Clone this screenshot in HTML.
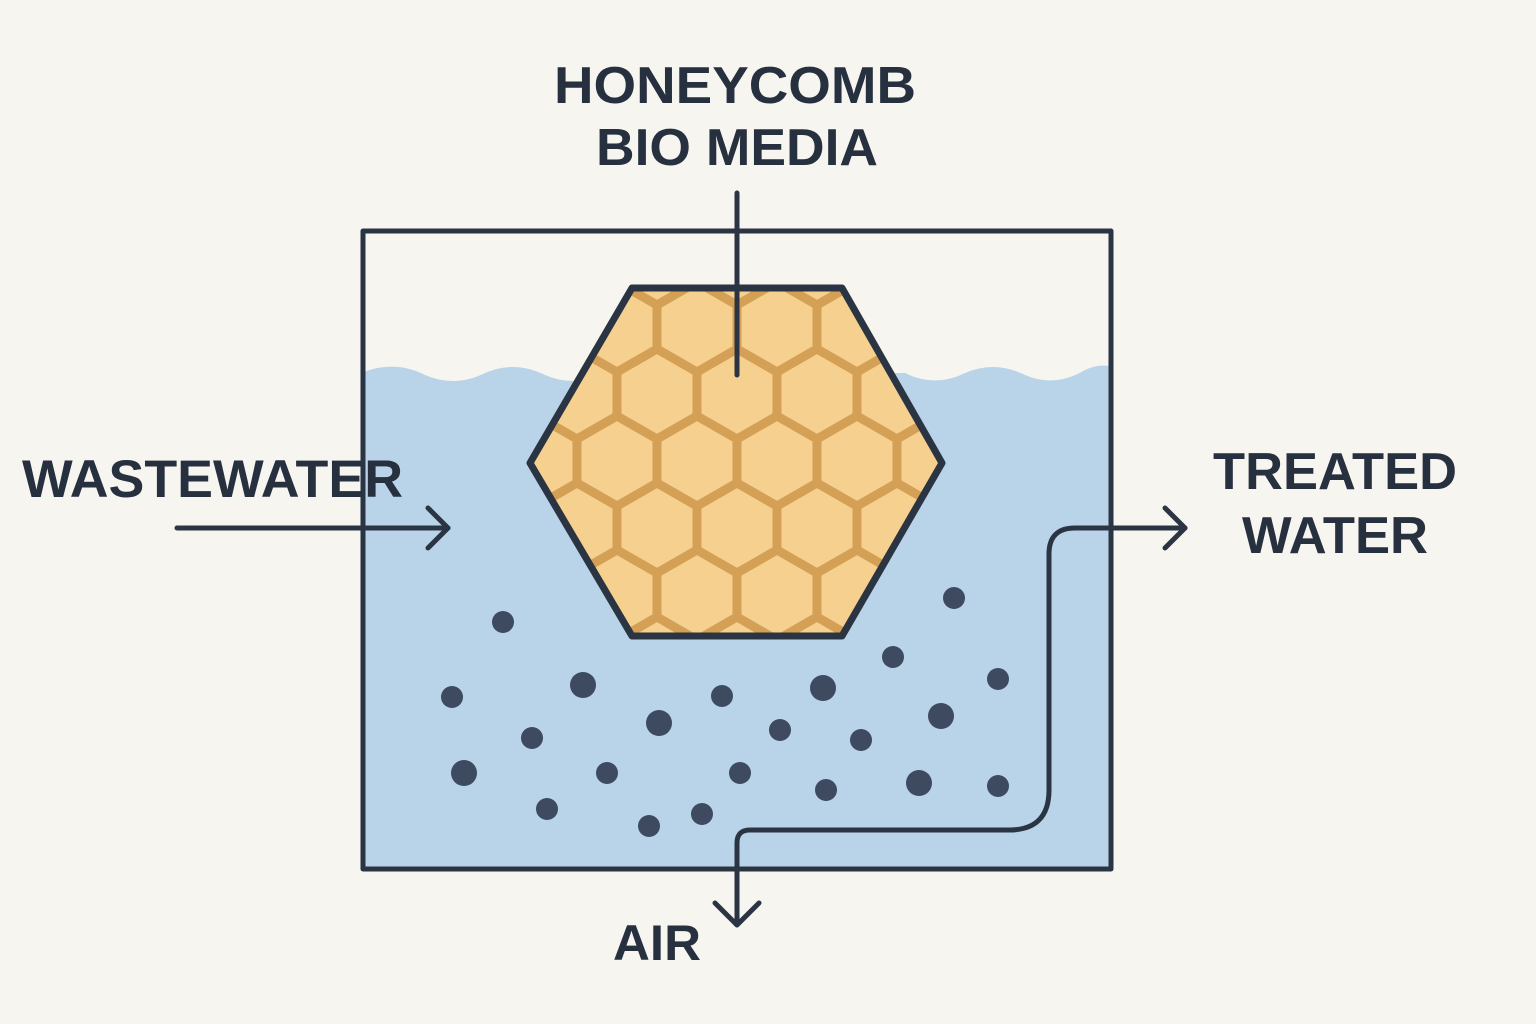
<!DOCTYPE html>
<html><head><meta charset="utf-8"><style>
html,body{margin:0;padding:0;background:#f7f5f0;}
svg{display:block}
text{font-family:"Liberation Sans",sans-serif;font-weight:bold;fill:#26303f;}
</style></head><body>
<svg width="1536" height="1024" viewBox="0 0 1536 1024" xmlns="http://www.w3.org/2000/svg">
<defs>
<polygon id="c" points="0,-46 40,-23 40,23 0,46 -40,23 -40,-23" fill="#f5d08e" stroke="#d4a055" stroke-width="9"/>
<clipPath id="hx"><polygon points="632,288 842,288 942,463 842,636 632,636 530,463"/></clipPath>
</defs>
<rect width="1536" height="1024" fill="#f7f5f0"/>
<path d="M364,372 Q395,360 425,375 Q455,388 485,373 Q515,360 545,375 Q575,388 605,373 L905,373 Q935,388 965,373 Q995,360 1025,375 Q1055,388 1085,370 Q1098,364 1109,366 L1109,868 L364,868 Z" fill="#b9d3e9"/>
<g clip-path="url(#hx)">
<rect x="520" y="280" width="430" height="370" fill="#f5d08e"/>
<g transform="translate(40,0)">
<use href="#c" x="457" y="261"/><use href="#c" x="537" y="261"/><use href="#c" x="617" y="261"/><use href="#c" x="697" y="261"/><use href="#c" x="777" y="261"/><use href="#c" x="857" y="261"/><use href="#c" x="937" y="261"/>
<use href="#c" x="497" y="328"/><use href="#c" x="577" y="328"/><use href="#c" x="657" y="328"/><use href="#c" x="737" y="328"/><use href="#c" x="817" y="328"/><use href="#c" x="897" y="328"/><use href="#c" x="977" y="328"/>
<use href="#c" x="457" y="395"/><use href="#c" x="537" y="395"/><use href="#c" x="617" y="395"/><use href="#c" x="697" y="395"/><use href="#c" x="777" y="395"/><use href="#c" x="857" y="395"/><use href="#c" x="937" y="395"/>
<use href="#c" x="497" y="462"/><use href="#c" x="577" y="462"/><use href="#c" x="657" y="462"/><use href="#c" x="737" y="462"/><use href="#c" x="817" y="462"/><use href="#c" x="897" y="462"/><use href="#c" x="977" y="462"/>
<use href="#c" x="457" y="529"/><use href="#c" x="537" y="529"/><use href="#c" x="617" y="529"/><use href="#c" x="697" y="529"/><use href="#c" x="777" y="529"/><use href="#c" x="857" y="529"/><use href="#c" x="937" y="529"/>
<use href="#c" x="497" y="596"/><use href="#c" x="577" y="596"/><use href="#c" x="657" y="596"/><use href="#c" x="737" y="596"/><use href="#c" x="817" y="596"/><use href="#c" x="897" y="596"/><use href="#c" x="977" y="596"/>
<use href="#c" x="457" y="663"/><use href="#c" x="537" y="663"/><use href="#c" x="617" y="663"/><use href="#c" x="697" y="663"/><use href="#c" x="777" y="663"/><use href="#c" x="857" y="663"/><use href="#c" x="937" y="663"/>
</g>
</g>
<polygon points="632,288 842,288 942,463 842,636 632,636 530,463" fill="none" stroke="#2b3443" stroke-width="7" stroke-linejoin="round"/>
<rect x="363" y="231" width="748" height="638" fill="none" stroke="#2b3443" stroke-width="5" stroke-linejoin="round"/>
<g fill="#3d4a60">
<circle cx="503" cy="622" r="11"/><circle cx="452" cy="697" r="11"/><circle cx="583" cy="685" r="13"/><circle cx="659" cy="723" r="13"/><circle cx="532" cy="738" r="11"/><circle cx="722" cy="696" r="11"/><circle cx="780" cy="730" r="11"/><circle cx="823" cy="688" r="13"/><circle cx="893" cy="657" r="11"/><circle cx="954" cy="598" r="11"/><circle cx="998" cy="679" r="11"/><circle cx="941" cy="716" r="13"/><circle cx="861" cy="740" r="11"/><circle cx="464" cy="773" r="13"/><circle cx="607" cy="773" r="11"/><circle cx="740" cy="773" r="11"/><circle cx="826" cy="790" r="11"/><circle cx="919" cy="783" r="13"/><circle cx="998" cy="786" r="11"/><circle cx="547" cy="809" r="11"/><circle cx="649" cy="826" r="11"/><circle cx="702" cy="814" r="11"/>
</g>
<g fill="none" stroke="#2b3443" stroke-width="5" stroke-linecap="round" stroke-linejoin="round">
<line x1="737" y1="193" x2="737" y2="375"/>
<line x1="177" y1="528" x2="448" y2="528"/>
<polyline points="428,508 448,528 428,548"/>
<path d="M1185,528 L1075,528 Q1049,528 1049,554 L1049,790 Q1049,830 1009,830 L750,830 Q737,830 737,843 L737,925"/>
<polyline points="1165,508 1185,528 1165,548"/>
<polyline points="715,903 737,925 759,903"/>
</g>
<text x="735" y="103" font-size="52" text-anchor="middle" textLength="362" lengthAdjust="spacingAndGlyphs">HONEYCOMB</text>
<text x="737" y="165" font-size="52" text-anchor="middle" textLength="282" lengthAdjust="spacingAndGlyphs">BIO MEDIA</text>
<text x="22" y="497" font-size="53" textLength="381" lengthAdjust="spacingAndGlyphs">WASTEWATER</text>
<text x="1335" y="489" font-size="52" text-anchor="middle" textLength="244" lengthAdjust="spacingAndGlyphs">TREATED</text>
<text x="1335" y="553" font-size="52" text-anchor="middle" textLength="186" lengthAdjust="spacingAndGlyphs">WATER</text>
<text x="657" y="960" font-size="50" text-anchor="middle" textLength="88" lengthAdjust="spacingAndGlyphs">AIR</text>
</svg>
</body></html>
